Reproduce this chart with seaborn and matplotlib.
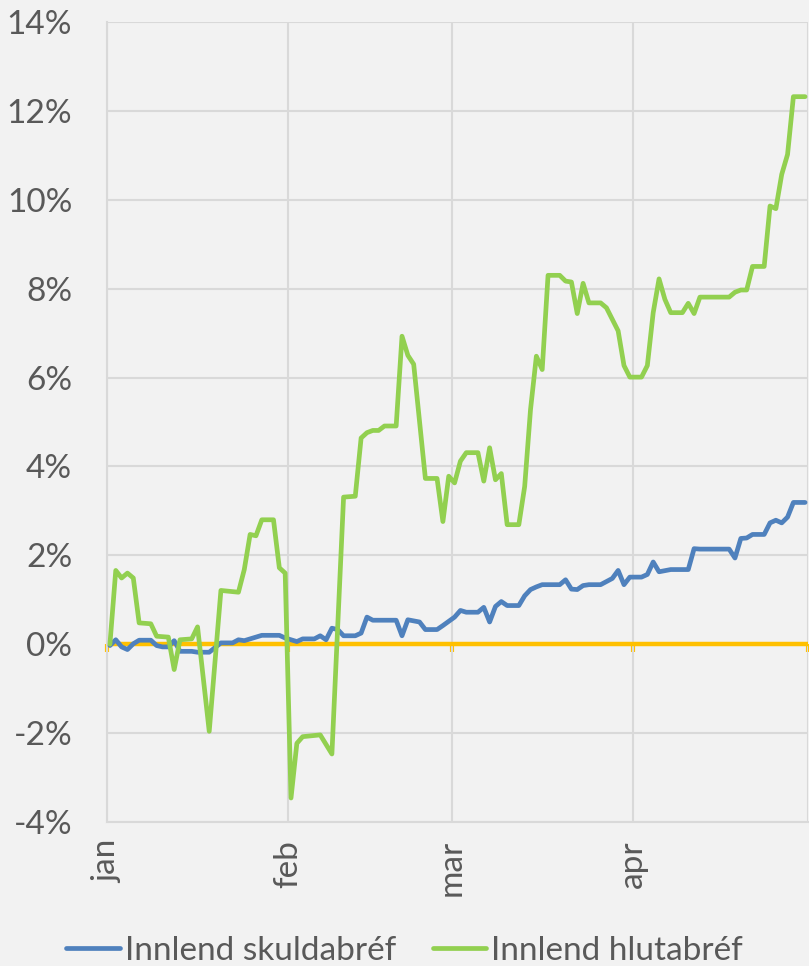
import matplotlib
matplotlib.use("Agg")
import matplotlib.pyplot as plt
import numpy as np
import pandas as pd
import seaborn as sns

# Days counted from 1 January, values are returns in percent
bond_days = [0, 1, 2, 3, 4, 5, 7, 8, 9, 10, 11, 12, 14, 15, 17, 19, 21, 22, 23,
             25, 26, 29, 30, 32, 33, 35, 36, 37, 38, 39, 40, 42, 43, 44, 45, 49,
             50, 51, 53, 54, 56, 57, 59, 60, 61, 63, 64, 65, 66, 67, 68, 70, 71,
             72, 73, 74, 77, 78, 79, 80, 81, 82, 84, 85, 86, 87, 88, 89, 91, 92,
             93, 94, 96, 99, 100, 101, 106, 107, 108, 109, 110, 112, 113, 114,
             115, 116, 117, 119]
bond_values = [-0.03, 0.10, -0.06, -0.12, 0.01, 0.09, 0.09, -0.03, -0.06, -0.06,
               0.08, -0.16, -0.16, -0.18, -0.18, 0.03, 0.03, 0.10, 0.08, 0.16,
               0.20, 0.20, 0.14, 0.06, 0.12, 0.12, 0.19, 0.10, 0.36, 0.33, 0.19,
               0.19, 0.25, 0.61, 0.54, 0.54, 0.19, 0.55, 0.50, 0.33, 0.33, 0.42,
               0.61, 0.76, 0.72, 0.72, 0.83, 0.50, 0.85, 0.96, 0.87, 0.87, 1.09,
               1.23, 1.29, 1.34, 1.34, 1.45, 1.24, 1.23, 1.32, 1.34, 1.34, 1.41,
               1.48, 1.66, 1.34, 1.51, 1.51, 1.57, 1.85, 1.63, 1.68, 1.68, 2.15,
               2.14, 2.14, 1.94, 2.38, 2.39, 2.47, 2.47, 2.73, 2.79, 2.73, 2.86,
               3.19, 3.19]

equity_days = [0, 1, 2, 3, 4, 5, 7, 8, 10, 11, 12, 14, 15, 17, 19, 22, 23, 24,
               25, 26, 28, 29, 30, 31, 32, 33, 36, 38, 40, 42, 43, 44, 45, 46, 47,
               49, 50, 51, 52, 54, 56, 57, 58, 59, 60, 61, 63, 64, 65, 66, 67, 68,
               70, 71, 72, 73, 74, 75, 77, 78, 79, 80, 81, 82, 84, 85, 86, 87, 88,
               89, 91, 92, 93, 94, 95, 96, 98, 99, 100, 101, 106, 107, 108, 109,
               110, 112, 113, 114, 115, 116, 117, 119]
equity_values = [0.00, 1.66, 1.49, 1.60, 1.49, 0.48, 0.46, 0.18, 0.16, -0.57,
                 0.10, 0.12, 0.39, -1.96, 1.21, 1.17, 1.68, 2.47, 2.44, 2.80,
                 2.80, 1.72, 1.60, -3.46, -2.23, -2.08, -2.04, -2.47, 3.31, 3.33,
                 4.64, 4.76, 4.81, 4.81, 4.91, 4.91, 6.93, 6.50, 6.30, 3.73, 3.73,
                 2.76, 3.78, 3.63, 4.12, 4.31, 4.31, 3.67, 4.42, 3.70, 3.84, 2.69,
                 2.69, 3.55, 5.28, 6.48, 6.18, 8.30, 8.30, 8.17, 8.15, 7.44, 8.12,
                 7.68, 7.68, 7.57, 7.31, 7.05, 6.27, 6.01, 6.01, 6.27, 7.46, 8.22,
                 7.76, 7.46, 7.46, 7.67, 7.44, 7.81, 7.81, 7.92, 7.97, 7.97, 8.50,
                 8.50, 9.86, 9.80, 10.57, 11.02, 12.32, 12.32]

series_names = ["Innlend skuldabréf", "Innlend hlutabréf"]
series_colors = ["#4f81bd", "#92d050"]
month_labels = ["jan", "feb", "mar", "apr", ""]
y_ticks = [-4, -2, 0, 2, 4, 6, 8, 10, 12, 14]
start = pd.Timestamp("2018-01-01")

BG = "#f2f2f2"
GRID = "#d9d9d9"
TEXT = "#595959"
ZERO = "#ffc000"


def to_frame(days, values, name):
    # points sit in the middle of their day slot, like a date axis in Excel
    return pd.DataFrame({
        "date": start + pd.to_timedelta(np.array(days) + 0.5, unit="D"),
        "value": values,
        "series": name,
    })


df = pd.concat([
    to_frame(bond_days, bond_values, series_names[0]),
    to_frame(equity_days, equity_values, series_names[1]),
], ignore_index=True)

sns.set_theme(style="whitegrid")
plt.rcParams["font.family"] = ["Lato", "DejaVu Sans"]

fig = plt.figure(figsize=(8.09, 9.66), dpi=100, facecolor=BG)
ax = fig.add_axes([107 / 809, 1 - 822 / 966, 701 / 809, 800 / 966])
ax.set_facecolor(BG)

sns.lineplot(data=df, x="date", y="value", hue="series",
             palette=dict(zip(series_names, series_colors)),
             linewidth=3.4, errorbar=None, ax=ax, zorder=3)

# zero line drawn under the series
ax.axhline(0, color=ZERO, linewidth=3.2, zorder=2)

month_ticks = pd.date_range(start, periods=len(month_labels), freq="MS")
ax.set_xlim(month_ticks[0], month_ticks[-1])
ax.set_ylim(y_ticks[0], y_ticks[-1])
ax.set_xticks(month_ticks)
ax.set_xticklabels(month_labels, rotation=90)
ax.set_yticks(y_ticks)
ax.set_yticklabels([f"{v}%" for v in y_ticks])
ax.set_xlabel("")
ax.set_ylabel("")

ax.grid(True, color=GRID, linewidth=1.5)
ax.tick_params(axis="both", length=0, labelsize=24, labelcolor=TEXT)
ax.tick_params(axis="y", pad=25)
ax.tick_params(axis="x", pad=13)
for side in ["top", "right"]:
    ax.spines[side].set_visible(False)
for side in ["left", "bottom"]:
    ax.spines[side].set_color(GRID)
    ax.spines[side].set_linewidth(1.5)

# small orange ticks hanging from the zero line
zero_axis = ax.secondary_xaxis(0, transform=ax.transData)
zero_axis.set_xticks(matplotlib.dates.date2num(month_ticks))
zero_axis.tick_params(axis="x", direction="out", length=6, width=3,
                      color=ZERO, labelbottom=False)
zero_axis.spines["bottom"].set_visible(False)

handles, labels = ax.get_legend_handles_labels()
ax.get_legend().remove()
fig.legend(handles, labels, loc="center", bbox_to_anchor=(0.5, 0.016),
           ncol=2, frameon=False, fontsize=24, labelcolor=TEXT,
           handlelength=1.6, handletextpad=0.15, columnspacing=1.1,
           borderaxespad=0)

fig.savefig("out.png", dpi=100, facecolor=BG)
